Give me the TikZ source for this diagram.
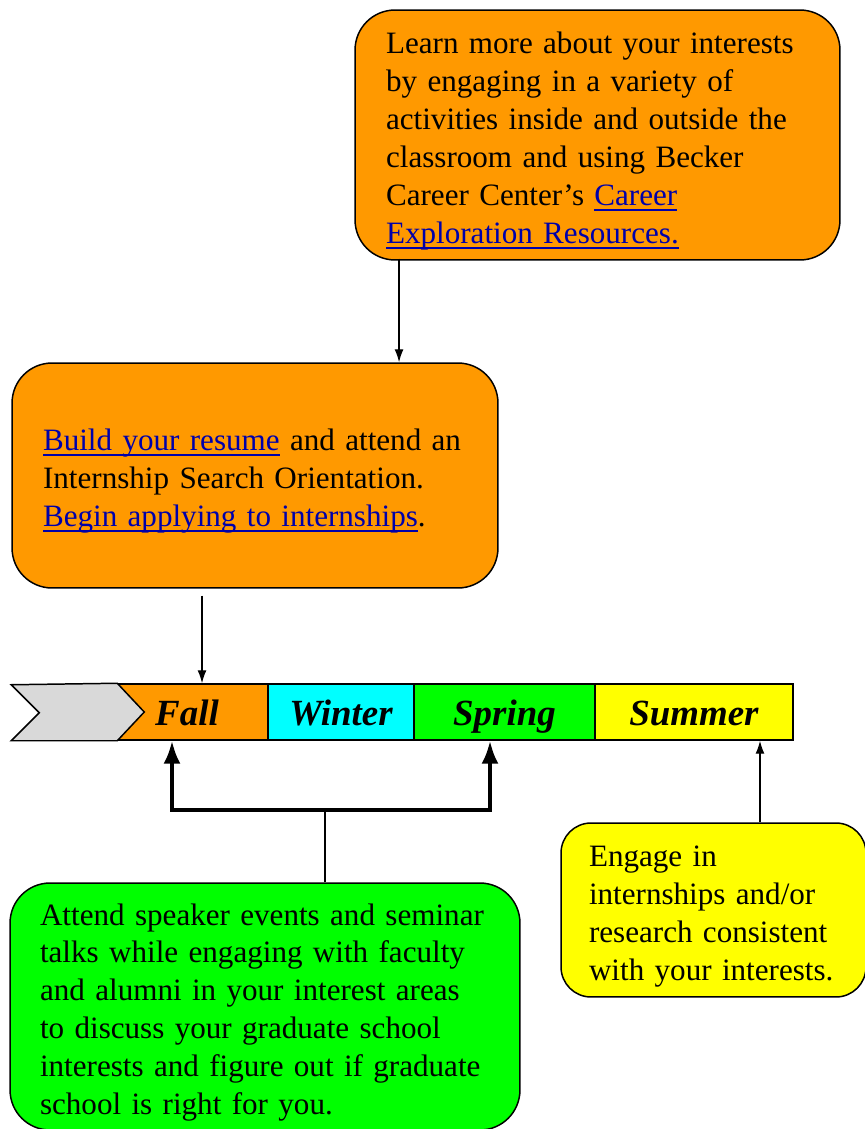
\documentclass[tikz,border=0pt]{standalone}
\usepackage{fontspec}
\setmainfont{Liberation Serif}
\usetikzlibrary{arrows.meta}

\definecolor{boxorange}{RGB}{255,153,0}
\definecolor{boxgreen}{RGB}{0,255,0}
\definecolor{boxyellow}{RGB}{255,255,0}
\definecolor{boxcyan}{RGB}{0,255,255}
\definecolor{chevgray}{RGB}{217,217,217}
\definecolor{linkblue}{RGB}{0,0,170}
\newsavebox{\linkbox}
\newcommand{\weblink}[1]{\textcolor{linkblue}{\sbox{\linkbox}{#1}%
  \rlap{\rule[-3pt]{\wd\linkbox}{1pt}}\usebox{\linkbox}}}
\newcommand{\boxfont}{\fontsize{17.7}{21.6}\selectfont\hyphenpenalty=10000\relax}

\tikzset{
  infobox/.style={draw=black, line width=0.85pt, rounded corners=0.8cm, align=left,
    inner xsep=0.62cm, inner ysep=0pt, font=\boxfont,
    execute at begin node={\rule{0pt}{0.67cm}}},
  season/.style={draw=black, line width=0.85pt, minimum height=1.12cm, inner sep=0pt,
    text height=0.6cm, text depth=0.08cm, font=\fontsize{21}{25}\selectfont\bfseries\itshape},
  bigarrow/.style={line width=2.2pt,
    {Latex[length=0.46cm,width=0.34cm]}-{Latex[length=0.46cm,width=0.34cm]}},
}

\begin{document}
\begin{tikzpicture}[x=0.02cm,y=-0.02cm,line width=0.75pt,>={Latex[length=0.26cm,width=0.18cm]}]
  \useasboundingbox (0,0) rectangle (865,1129);

  % Advice boxes
  \node[infobox, fill=boxorange, minimum width=9.7cm, minimum height=5cm, text width=8.46cm]
    (learn) at (597.5,135) {Learn more about your interests\\ by engaging in a variety of\\
    activities inside and outside the\\ classroom and using Becker\\
    Career Center’s \weblink{Career}\\ \weblink{Exploration Resources.}};

  \node[infobox, fill=boxorange, minimum width=9.72cm, minimum height=4.5cm, text width=8.48cm]
    (resume) at (255,475.5) {\weblink{Build your resume} and attend an\\
    Internship Search Orientation.\\ \weblink{Begin applying to internships}.};

  \node[infobox, fill=boxgreen, inner xsep=0.6cm, minimum width=10.2cm, minimum height=4.94cm,
    text width=9cm]
    (seminar) at (265,1006.5) {Attend speaker events and seminar\\ talks while engaging with faculty\\
    and alumni in your interest areas\\ to discuss your graduate school\\
    interests and figure out if graduate\\ school is right for you.};

  \node[infobox, fill=boxyellow, rounded corners=0.6cm, inner xsep=0.56cm, minimum width=6.1cm,
    minimum height=3.48cm, text width=4.98cm]
    (engage) at (713.5,910) {Engage in\\ internships and/or\\ research consistent\\ with your interests.};

  % Timeline (seasons)
  \node[season, fill=boxorange, minimum width=3cm] (fall) at (193,712) {Fall\hspace*{0.24cm}};
  \node[season, fill=boxcyan, minimum width=2.92cm] (winter) at (341,712) {Winter};
  \node[season, fill=boxgreen, minimum width=3.62cm] (spring) at (504.5,712) {Spring};
  \node[season, fill=boxyellow, minimum width=3.96cm] (summer) at (694,712) {Summer};
  \draw[line width=0.85pt, fill=chevgray] (fall.north west) -- ([xshift=0.54cm]fall.west)
    -- (fall.south west) -- ++(-106,0) -- ++(28,-28) -- ++(-28,-28) -- cycle;

  % Connectors
  \coordinate (learnout) at ([xshift=-3.97cm,yshift=0.04cm]learn.south);
  \coordinate (resumeout) at ([xshift=-1.06cm,yshift=-0.14cm]resume.south);
  \coordinate (fallin) at ([xshift=-0.42cm]fall.south);
  \coordinate (springin) at ([xshift=-0.29cm]spring.south);
  \coordinate (brk) at (325,810);
  \coordinate (engageout) at ([xshift=0.93cm]engage.north);

  \draw[->] (learnout) -- (learnout |- resume.north);
  \draw[->] (resumeout) -- (resumeout |- fall.north);
  \draw[bigarrow] (fallin) -- (fallin |- brk) -- (springin |- brk) -- (springin);
  \draw (seminar.north -| brk) -- (brk);
  \draw[->] (engageout) -- (engageout |- summer.south);
\end{tikzpicture}
\end{document}
